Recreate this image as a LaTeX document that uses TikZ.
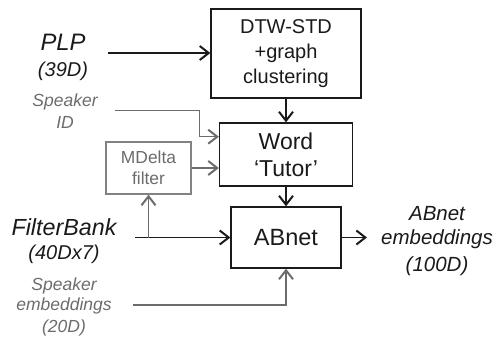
\documentclass[tikz,border=0pt]{standalone}
\usepackage{fontspec}
\setmainfont{Liberation Sans}
\usetikzlibrary{arrows.meta}
\definecolor{ink}{HTML}{1A1A1A}
\definecolor{gry}{HTML}{6C6C6C}
\begin{document}
\begin{tikzpicture}[x=1pt,y=-1pt,
  box/.style={draw=ink,line width=1.3pt,minimum width=#1,inner sep=0pt,align=center,text=ink},
  gbox/.style={draw=gry!85,line width=1.3pt,inner sep=0pt,align=center,text=gry},
  tip/.style={-{Straight Barb[length=9pt,width=14pt,line width=2pt]}},
  arr/.style={draw=ink,line width=1.5pt,tip},
  garr/.style={draw=gry,line width=1.5pt,tip},
  lbl/.style={anchor=base,inner sep=0pt,font=\itshape,text=ink},
  glbl/.style={anchor=base,inner sep=0pt,font=\itshape,text=gry}]
\useasboundingbox (0,0) rectangle (494,338);
% boxes
\node[box=150pt,minimum height=89pt,font=\fontsize{20}{24.7}\selectfont] (dtw) at (286,53.5) {DTW-STD\\+graph\\clustering};
\node[box=133pt,minimum height=63pt,font=\fontsize{23}{27}\selectfont] (word) at (286,154.5) {Word\\`Tutor'};
\node[box=110pt,minimum height=61pt,font=\fontsize{23.5}{27}\selectfont] (abnet) at (286,237.5) {ABnet};
\node[gbox,minimum width=85pt,minimum height=52pt,font=\fontsize{17.4}{20.5}\selectfont] (md) at (148.5,168) {MDelta\\filter};
% labels
\node[lbl,font=\fontsize{23.8}{28}\selectfont\itshape] (plp) at (63,50.7) {PLP};
\node[lbl,font=\fontsize{20}{24}\selectfont\itshape] (plpd) at (63,76) {(39D)};
\node[glbl,font=\fontsize{17.5}{20}\selectfont\itshape] (spk1) at (65,106.7) {Speaker};
\node[glbl,font=\fontsize{17.5}{20}\selectfont\itshape] (spk2) at (65,128) {ID};
\node[lbl,font=\fontsize{23.3}{28}\selectfont\itshape] (fb) at (64,235) {FilterBank};
\node[lbl,font=\fontsize{20}{24}\selectfont\itshape] (fbd) at (64,259.5) {(40Dx7)};
\node[glbl,font=\fontsize{17.5}{20}\selectfont\itshape] (se1) at (64,290.7) {Speaker};
\node[glbl,font=\fontsize{17.5}{20}\selectfont\itshape] (se2) at (64,310.7) {embeddings};
\node[glbl,font=\fontsize{17.5}{20}\selectfont\itshape] (se3) at (64,332.5) {(20D)};
\node[lbl,font=\fontsize{20.5}{24}\selectfont\itshape] (out1) at (437,220.3) {ABnet};
\node[lbl,font=\fontsize{20.5}{24}\selectfont\itshape] (out2) at (437,244.5) {embeddings};
\node[lbl,font=\fontsize{20.5}{24}\selectfont\itshape] (out3) at (437,271.5) {(100D)};
% connector end points
\coordinate (plpS) at (108,53);
\coordinate (spkS) at (115,110.7);
\coordinate (spkK) at (199.3,110.7);
\coordinate (fbS) at (135,237.5);
\coordinate (fbJ) at (148.5,237.5);
\coordinate (seS) at (133.3,305);
\coordinate (outE) at (367,237.5);
% connectors
\draw[arr] (plpS) -- (plpS -| dtw.west);
\draw[arr] (dtw.south) -- (word.north);
\draw[arr] (word.south) -- (abnet.north);
\draw[arr] (fbS) -- (abnet.west);
\draw[garr] (fbJ) -- (md.south);
\draw[garr] (md.east) -- (md.east -| word.west);
\draw[garr] (spkS) -- (spkK) -- (spkK |- 0,136.7) -- (word.west |- 0,136.7);
\draw[garr] (seS) -- (seS -| abnet.south) -- (abnet.south);
\draw[arr] (abnet.east) -- (outE);
\end{tikzpicture}
\end{document}
